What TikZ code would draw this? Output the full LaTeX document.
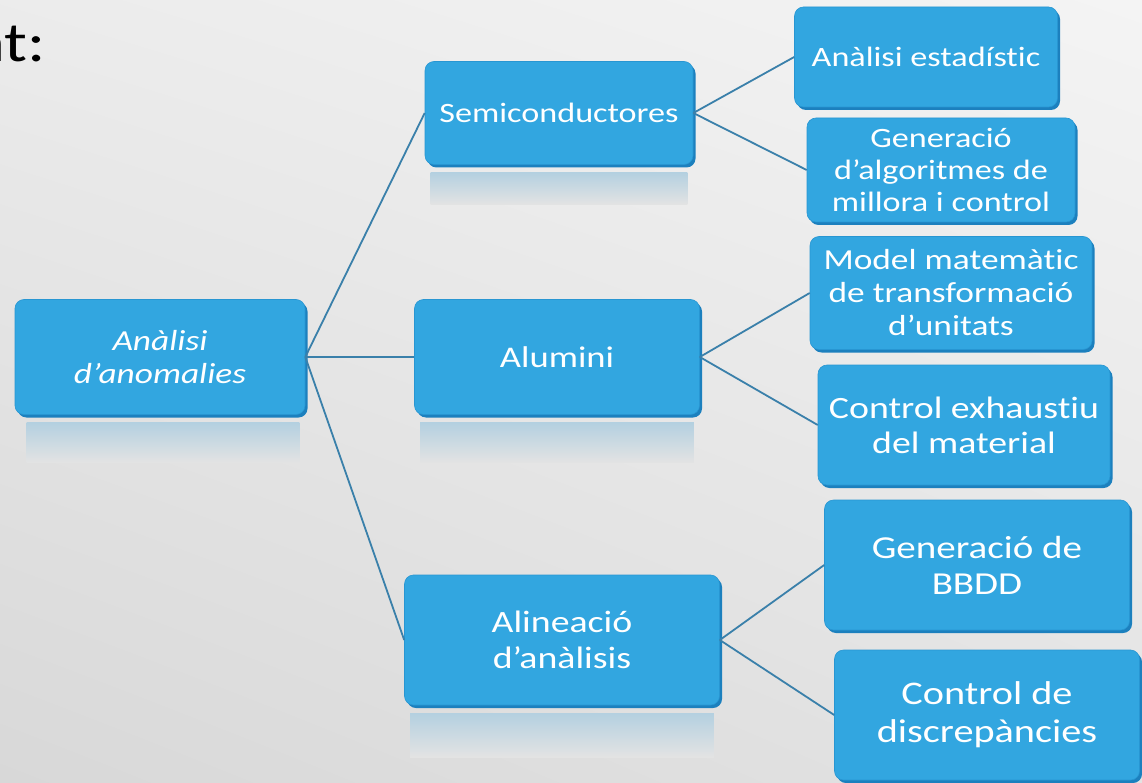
\documentclass[tikz,border=0pt]{standalone}
\usepackage{fontspec}
\setmainfont[FakeStretch=1.22, Ligatures=NoCommon]{Carlito}
\usetikzlibrary{shadows,shadings}
\definecolor{blau}{RGB}{50,166,224}
\definecolor{blaufosc}{RGB}{28,128,190}
\definecolor{blauvora}{RGB}{40,150,210}
\definecolor{liniablau}{RGB}{58,128,170}
\definecolor{reflexblau}{RGB}{180,208,224}
\definecolor{fonsclar}{RGB}{244,244,244}
\definecolor{fonsfosc}{RGB}{216,216,216}

\begin{document}
\begin{tikzpicture}[x=1pt,y=-1pt,
  caixa/.style={rounded corners=9pt, fill=blau, draw=blauvora, line width=0.6pt,
    text=white, align=center, inner sep=2pt,
    drop shadow={shadow xshift=2.5pt, shadow yshift=-3pt, fill=blaufosc, opacity=1}},
  mida/.style 2 args={font=\fontsize{#1}{#2}\selectfont},
  linia/.style={draw=liniablau, line width=1.8pt},
  reflex/.style={top color=reflexblau, bottom color=fonsfosc!60!fonsclar}]
\useasboundingbox (0,0) rectangle (1142,783);
\shade[upper left=fonsclar!70!fonsfosc, upper right=fonsclar, lower left=fonsfosc, lower right=fonsclar!40!fonsfosc]
  (0,0) rectangle (1142,783);
\node[anchor=base east, inner sep=0pt, mida={56}{60}] (titol) at (46,62) {nt:};
% nivell 1
\node[caixa, minimum width=290pt, minimum height=115pt, font=\fontsize{29}{33}\selectfont\itshape] (arrel) at (160,357) {Anàlisi\\d’anomalies};
% nivell 2
\node[caixa, minimum width=268pt, minimum height=103pt, mida={28}{32}] (semi) at (559,113) {Semiconductores};
\node[caixa, minimum width=285pt, minimum height=115pt, mida={30}{34}] (alum) at (557,357) {Alumini};
\node[caixa, minimum width=315pt, minimum height=130pt, mida={31}{36}] (alin) at (562,640) {Alineació\\d’anàlisis};
% nivell 3
\node[caixa, minimum width=263pt, minimum height=100pt, mida={28}{32}] (estad) at (926,57) {Anàlisi estadístic};
\node[caixa, minimum width=268pt, minimum height=104pt, mida={28}{32}] (algor) at (941,170) {Generació\\d’algoritmes de\\millora i control};
\node[caixa, minimum width=282pt, minimum height=113pt, mida={29}{33}] (model) at (951,293) {Model matemàtic\\de transformació\\d’unitats};
\node[caixa, minimum width=292pt, minimum height=120pt, mida={31}{35}] (exhau) at (964,425) {Control exhaustiu\\del material};
\node[caixa, minimum width=305pt, minimum height=130pt, mida={32}{36}] (bbdd) at (977,565) {Generació de\\BBDD};
\node[caixa, minimum width=305pt, minimum height=130pt, mida={33}{38}] (discr) at (987,715) {Control de\\discrepàncies};
% reflexos
\shade[reflex] ([xshift=12pt, yshift=-8pt]arrel.south west) rectangle ([xshift=-6pt, yshift=-48pt]arrel.south east);
\shade[reflex] ([xshift=6pt, yshift=-8pt]semi.south west) rectangle ([xshift=-6pt, yshift=-40pt]semi.south east);
\shade[reflex] ([xshift=6pt, yshift=-8pt]alum.south west) rectangle ([xshift=-6pt, yshift=-48pt]alum.south east);
\shade[reflex] ([xshift=6pt, yshift=-8pt]alin.south west) rectangle ([xshift=-6pt, yshift=-52pt]alin.south east);
% connexions
\draw[linia] (arrel.east) -- (semi.west);
\draw[linia] (arrel.east) -- (alum.west);
\draw[linia] (arrel.east) -- (alin.west);
\draw[linia] (semi.east) -- (estad.west);
\draw[linia] (semi.east) -- (algor.west);
\draw[linia] (alum.east) -- (model.west);
\draw[linia] (alum.east) -- (exhau.west);
\draw[linia] (alin.east) -- (bbdd.west);
\draw[linia] (alin.east) -- (discr.west);
\end{tikzpicture}
\end{document}
